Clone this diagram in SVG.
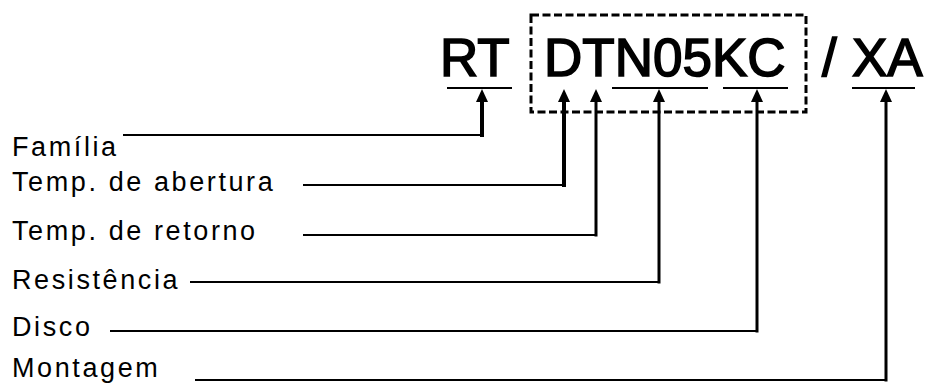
<svg xmlns="http://www.w3.org/2000/svg" width="925" height="385" viewBox="0 0 925 385">
<defs>
<style>
.code{font-family:"Liberation Sans",Arial,sans-serif;font-size:53px;fill:#000;stroke:#000;stroke-width:1.6px}
.lbl{font-family:"Liberation Sans",Arial,sans-serif;font-size:27px;letter-spacing:2.6px;fill:#000}
.ul{stroke:#000;stroke-width:2;fill:none}
.box{stroke:#000;stroke-width:3;fill:none;stroke-dasharray:8 3.5}
.conn{stroke:#000;stroke-width:2;fill:none}
.v{stroke:#000;stroke-width:3;fill:none}
.vt{stroke:#000;stroke-width:4;fill:none}
.head{fill:#000}
</style>
</defs>
<rect width="925" height="385" fill="#fff"/>
<g id="code">
<text class="code" x="440" y="76">RT</text>
<text class="code" x="544" y="76">DTN05KC</text>
<text class="code" x="822" y="76">/</text>
<text class="code" x="852" y="76">XA</text>
<line class="ul" x1="447" y1="88" x2="512" y2="88"/>
<line class="ul" x1="612" y1="88" x2="708" y2="88"/>
<line class="ul" x1="723" y1="88" x2="788" y2="88"/>
<line class="ul" x1="852" y1="88" x2="915" y2="88"/>
<rect class="box" x="531" y="15" width="275" height="97"/>
</g>
<g id="n-familia"><text class="lbl" x="12" y="156">Família</text></g>
<g id="n-abertura"><text class="lbl" x="12" y="191">Temp. de abertura</text></g>
<g id="n-retorno"><text class="lbl" x="12" y="240">Temp. de retorno</text></g>
<g id="n-resistencia"><text class="lbl" x="12" y="289">Resistência</text></g>
<g id="n-disco"><text class="lbl" x="12" y="336">Disco</text></g>
<g id="n-montagem"><text class="lbl" x="12" y="377">Montagem</text></g>
<g id="connectors">
<polyline class="conn" points="123,135 482,135"/>
<line class="vt" x1="482" y1="137" x2="482" y2="99"/>
<polygon class="head" points="482,89 476,102 488,102"/>
<polyline class="conn" points="303,185 564,185"/>
<line class="vt" x1="564" y1="187" x2="564" y2="99"/>
<polygon class="head" points="564,89 558,102 570,102"/>
<polyline class="conn" points="303,235 596,235"/>
<line class="v" x1="596" y1="236.5" x2="596" y2="99"/>
<polygon class="head" points="596,89 590,102 602,102"/>
<polyline class="conn" points="190,282 659,282"/>
<line class="v" x1="659" y1="283.5" x2="659" y2="99"/>
<polygon class="head" points="659,89 653,102 665,102"/>
<polyline class="conn" points="110,331 757,331"/>
<line class="v" x1="757" y1="332.5" x2="757" y2="99"/>
<polygon class="head" points="757,89 751,102 763,102"/>
<polyline class="conn" points="195,380 886,380"/>
<line class="v" x1="886" y1="381.5" x2="886" y2="99"/>
<polygon class="head" points="886,89 880,102 892,102"/>
</g>
</svg>
